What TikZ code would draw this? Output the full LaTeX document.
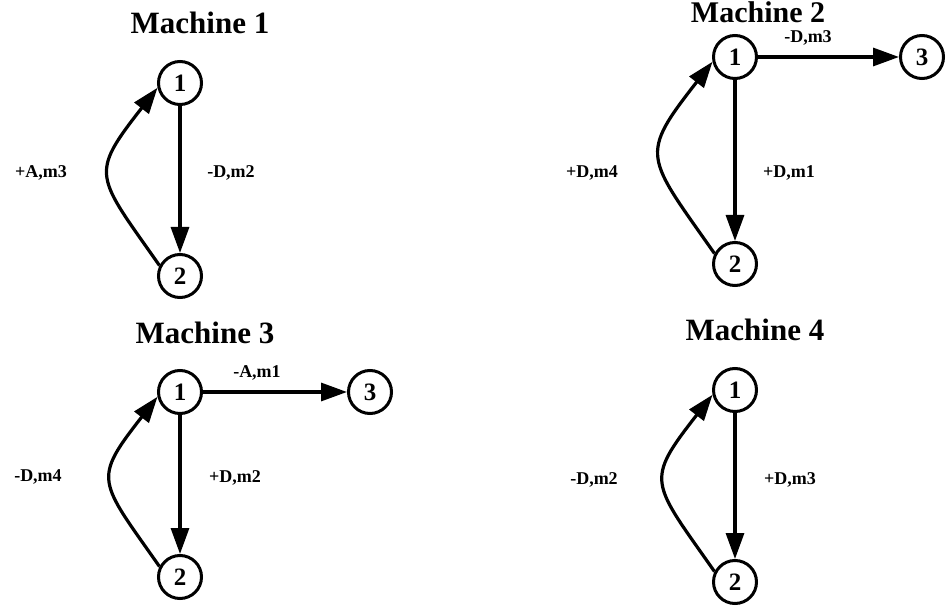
\documentclass[tikz,border=0pt]{standalone}
\usepackage{fontspec}
\setmainfont{Liberation Serif}
\usetikzlibrary{arrows.meta}
\begin{document}
\begin{tikzpicture}[x=1pt,y=-1pt,
  state/.style={circle,draw,line width=3pt,minimum size=43pt,inner sep=0pt,
    font=\fontsize{25}{25}\selectfont\bfseries},
  title/.style={inner sep=0pt,font=\fontsize{31}{31}\selectfont\bfseries},
  lab/.style={inner sep=0pt,font=\fontsize{18}{18}\selectfont\bfseries},
  edge/.style={line width=3.2pt,-{Triangle[length=26pt,width=18pt]}},
  back/.style={edge,out=125,in=232,looseness=1.6},
]
\useasboundingbox (0,0) rectangle (948,609);

% Machine 1
\node[title] (t1) at (200,23) {Machine 1};
\node[state] (m1a) at (180,83) {1};
\node[state] (m1b) at (180,276) {2};
\draw[edge] (m1a) -- (m1b);
\draw[back] (m1b.153) to (m1a.192);
\node[lab] (l1a) at (41,173) {+A,m3};
\node[lab] (l1b) at (231,173) {-D,m2};

% Machine 2
\node[title,font=\fontsize{30}{30}\selectfont\bfseries] (t2) at (758,12) {Machine 2};
\node[state] (m2a) at (735,57) {1};
\node[state] (m2b) at (735,264) {2};
\node[state] (m2c) at (922,57) {3};
\draw[edge] (m2a) -- (m2b);
\draw[edge] (m2a) -- (m2c);
\draw[back] (m2b.153) to (m2a.192);
\node[lab] (l2a) at (592,173) {+D,m4};
\node[lab] (l2b) at (789,173) {+D,m1};
\node[lab] (l2c) at (808,38) {-D,m3};

% Machine 3
\node[title] (t3) at (205,333) {Machine 3};
\node[state] (m3a) at (180,392) {1};
\node[state] (m3b) at (180,577) {2};
\node[state] (m3c) at (370,392) {3};
\draw[edge] (m3a) -- (m3b);
\draw[edge] (m3a) -- (m3c);
\draw[back] (m3b.153) to (m3a.192);
\node[lab] (l3a) at (38,477) {-D,m4};
\node[lab] (l3b) at (235,478) {+D,m2};
\node[lab] (l3c) at (257,373) {-A,m1};

% Machine 4
\node[title] (t4) at (755,330) {Machine 4};
\node[state] (m4a) at (735,390) {1};
\node[state] (m4b) at (735,582) {2};
\draw[edge] (m4a) -- (m4b);
\draw[back] (m4b.153) to (m4a.192);
\node[lab] (l4a) at (594,480) {-D,m2};
\node[lab] (l4b) at (790,480) {+D,m3};
\end{tikzpicture}
\end{document}
